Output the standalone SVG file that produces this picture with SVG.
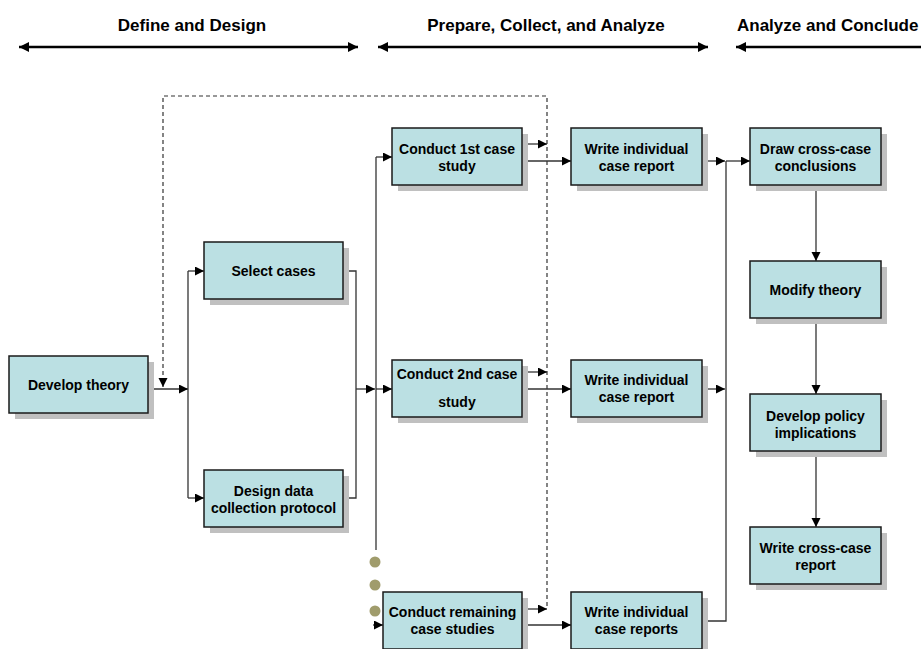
<svg xmlns="http://www.w3.org/2000/svg" width="921" height="649" viewBox="0 0 921 649">
<defs>
<marker id="ah" markerUnits="userSpaceOnUse" markerWidth="10" markerHeight="10" refX="9" refY="4.5" orient="auto">
<path d="M0,0 L9,4.5 L0,9 z" fill="#000"/>
</marker>
<marker id="hh" markerUnits="userSpaceOnUse" markerWidth="12" markerHeight="12" refX="10" refY="5" orient="auto-start-reverse">
<path d="M0,0 L10,5 L0,10 z" fill="#000"/>
</marker>
</defs>
<style>
.box{fill:#bbe0e3;stroke:#1a1a1a;stroke-width:1.5}
.sh{fill:#c0c0c0}
.t{font-family:"Liberation Sans",Arial,sans-serif;font-weight:bold;font-size:14px;fill:#000;text-anchor:middle}
.h{font-family:"Liberation Sans",Arial,sans-serif;font-weight:bold;font-size:17px;fill:#000}
.c{fill:none;stroke:#333;stroke-width:1.3}
.a{marker-end:url(#ah)}
.d{fill:none;stroke:#333;stroke-width:1.2;stroke-dasharray:4 3}
.ha{fill:none;stroke:#000;stroke-width:2.5}
.dot{fill:#a09c6c}
</style>
<rect width="921" height="649" fill="#fff"/>

<g id="headers">
<text class="h" x="192" y="31" text-anchor="middle">Define and Design</text>
<text class="h" x="546" y="31" text-anchor="middle">Prepare, Collect, and Analyze</text>
<text class="h" x="737" y="31">Analyze and Conclude</text>
<path class="ha" d="M19,47 H358" marker-start="url(#hh)" marker-end="url(#hh)"/>
<path class="ha" d="M378,47 H708" marker-start="url(#hh)" marker-end="url(#hh)"/>
<path class="ha" d="M736,47 H925" marker-start="url(#hh)"/>
</g>

<g id="connectors">
<path class="d a" d="M547,606 V96 H163 V387"/>
<path class="c a" d="M148,389 H188"/>
<path class="c" d="M188,271 V498"/>
<path class="c a" d="M188,271 H204"/>
<path class="c a" d="M188,498 H204"/>
<path class="c" d="M343,271 H356 V498 H343"/>
<path class="c a" d="M356,389 H375"/>
<path class="c a" d="M376,389 H392"/>
<path class="c" d="M376,157 V550"/>
<path class="c a" d="M376,157 H392"/>
<path class="c a" d="M373,625 H383"/>
<path class="c a" d="M522,144 H547"/>
<path class="c a" d="M522,372 H547"/>
<path class="c a" d="M522,609 H547"/>
<path class="c a" d="M522,161 H571"/>
<path class="c a" d="M522,389 H571"/>
<path class="c a" d="M522,625 H571"/>
<path class="c a" d="M702,161 H725"/>
<path class="c a" d="M702,389 H725"/>
<path class="c" d="M702,621 H726 V161"/>
<path class="c a" d="M726,161 H750"/>
<path class="c a" d="M816,185 V261"/>
<path class="c a" d="M816,318 V394"/>
<path class="c a" d="M816,451 V527"/>
<circle class="dot" cx="375" cy="562" r="5.5"/>
<circle class="dot" cx="375" cy="585" r="5.5"/>
<circle class="dot" cx="375" cy="611" r="5.5"/>
</g>

<g id="develop-theory">
<rect class="sh" x="15" y="362" width="139" height="57"/>
<rect class="box" x="9" y="356" width="139" height="57"/>
<text class="t" x="78.5" y="390">Develop theory</text>
</g>
<g id="select-cases">
<rect class="sh" x="210" y="248" width="139" height="57"/>
<rect class="box" x="204" y="242" width="139" height="57"/>
<text class="t" x="273.5" y="276">Select cases</text>
</g>
<g id="design-protocol">
<rect class="sh" x="210" y="476" width="139" height="57"/>
<rect class="box" x="204" y="470" width="139" height="57"/>
<text class="t" x="273.5" y="496">Design data</text>
<text class="t" x="273.5" y="513">collection protocol</text>
</g>
<g id="conduct-1">
<rect class="sh" x="398" y="134" width="130" height="57"/>
<rect class="box" x="392" y="128" width="130" height="57"/>
<text class="t" x="457" y="154">Conduct 1st case</text>
<text class="t" x="457" y="171">study</text>
</g>
<g id="conduct-2">
<rect class="sh" x="398" y="366" width="130" height="57"/>
<rect class="box" x="392" y="360" width="130" height="57"/>
<text class="t" x="457" y="379">Conduct 2nd case</text>
<text class="t" x="457" y="407">study</text>
</g>
<g id="conduct-remaining">
<rect class="sh" x="389" y="598" width="139" height="57"/>
<rect class="box" x="383" y="592" width="139" height="57"/>
<text class="t" x="452.5" y="617">Conduct remaining</text>
<text class="t" x="452.5" y="634">case studies</text>
</g>
<g id="report-1">
<rect class="sh" x="577" y="134" width="131" height="57"/>
<rect class="box" x="571" y="128" width="131" height="57"/>
<text class="t" x="636.5" y="154">Write individual</text>
<text class="t" x="636.5" y="171">case report</text>
</g>
<g id="report-2">
<rect class="sh" x="577" y="366" width="131" height="57"/>
<rect class="box" x="571" y="360" width="131" height="57"/>
<text class="t" x="636.5" y="385">Write individual</text>
<text class="t" x="636.5" y="402">case report</text>
</g>
<g id="report-3">
<rect class="sh" x="577" y="598" width="131" height="57"/>
<rect class="box" x="571" y="592" width="131" height="57"/>
<text class="t" x="636.5" y="617">Write individual</text>
<text class="t" x="636.5" y="634">case reports</text>
</g>
<g id="conclusions">
<rect class="sh" x="756" y="134" width="131" height="57"/>
<rect class="box" x="750" y="128" width="131" height="57"/>
<text class="t" x="815.5" y="154">Draw cross-case</text>
<text class="t" x="815.5" y="171">conclusions</text>
</g>
<g id="modify-theory">
<rect class="sh" x="756" y="267" width="131" height="57"/>
<rect class="box" x="750" y="261" width="131" height="57"/>
<text class="t" x="815.5" y="295">Modify theory</text>
</g>
<g id="policy">
<rect class="sh" x="756" y="400" width="131" height="57"/>
<rect class="box" x="750" y="394" width="131" height="57"/>
<text class="t" x="815.5" y="421">Develop policy</text>
<text class="t" x="815.5" y="438">implications</text>
</g>
<g id="cross-report">
<rect class="sh" x="756" y="533" width="131" height="57"/>
<rect class="box" x="750" y="527" width="131" height="57"/>
<text class="t" x="815.5" y="553">Write cross-case</text>
<text class="t" x="815.5" y="570">report</text>
</g>
</svg>
